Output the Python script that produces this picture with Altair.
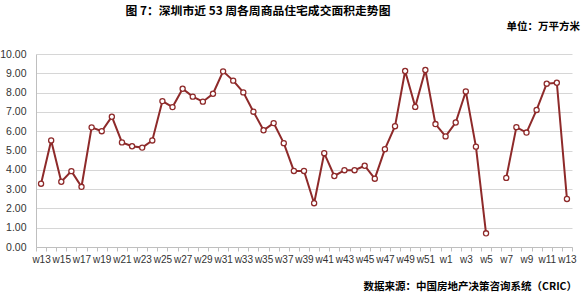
import altair as alt
import pandas as pd

weeks = ["w13","w14","w15","w16","w17","w18","w19","w20","w21","w22","w23","w24",
         "w25","w26","w27","w28","w29","w30","w31","w32","w33","w34","w35","w36",
         "w37","w38","w39","w40","w41","w42","w43","w44","w45","w46","w47","w48",
         "w49","w50","w51","w52","w1","w2","w3","w4","w5","w6","w7","w8","w9",
         "w10","w11","w12","w13"]
values = [3.28,5.52,3.38,3.93,3.12,6.20,6.00,6.75,5.42,5.22,5.15,5.52,
          7.56,7.25,8.20,7.79,7.53,7.94,9.10,8.62,8.01,7.01,6.05,6.42,
          5.38,3.94,3.94,2.27,4.86,3.68,3.98,3.98,4.21,3.54,5.07,6.26,
          9.12,7.26,9.17,6.37,5.73,6.45,8.06,5.20,0.71,None,3.58,6.21,5.93,
          7.10,8.46,8.51,2.49]
y_ticks = [0,1,2,3,4,5,6,7,8,9,10]

keys = [f"{i:02d}|{w}" for i, w in enumerate(weeks)]
df = pd.DataFrame({"key": keys, "week": weeks, "value": values})

LINE = "#8E2A2A"
FONT = "Liberation Sans"
CJK = "Noto Sans CJK SC"

x = alt.X("key:O", sort=keys, scale=alt.Scale(paddingInner=0, paddingOuter=0),
          axis=alt.Axis(title=None, tickBand="extent", ticks=True, tickSize=4,
                        tickColor="#BFBFBF", domainColor="#BFBFBF", labelAngle=0,
                        labelFont=FONT, labelFontSize=10, labelColor="#333333",
                        labelPadding=3, labelOverlap=False, grid=False,
                        labelExpr="parseInt(split(datum.label,'|')[0]) % 2 == 0 ? split(datum.label,'|')[1] : ''"))
y = alt.Y("value:Q", scale=alt.Scale(domain=[0, 10], nice=False),
          axis=alt.Axis(title=None, values=y_ticks, format=".2f", ticks=False,
                        domainColor="#BFBFBF", gridColor="#D6D6D6", gridWidth=1,
                        labelFont=FONT, labelFontSize=10.5, labelColor="#333333",
                        labelPadding=10))

base = alt.Chart(df)
line = base.mark_line(color=LINE, strokeWidth=2, invalid="break-paths-show-domains").encode(x=x, y=y)
pts = base.mark_point(shape="circle", filled=True, fill="white", stroke=LINE,
                      strokeWidth=1.3, size=26, opacity=1).encode(x=x, y=y)

title = alt.Chart(pd.DataFrame({"t": ["图 7：深圳市近 53 周各周商品住宅成交面积走势图"]})).mark_text(
    font=CJK, fontSize=11.8, fontWeight="bold", color="#000000", align="center", baseline="middle"
).encode(text="t:N", x=alt.value(222), y=alt.value(-43))
unit = alt.Chart(pd.DataFrame({"t": ["单位：万平方米"]})).mark_text(
    font=CJK, fontSize=10.5, fontWeight="bold", color="#000000", align="right", baseline="middle"
).encode(text="t:N", x=alt.value(544), y=alt.value(-27))
src = alt.Chart(pd.DataFrame({"t": ["数据来源：中国房地产决策咨询系统（CRIC）"]})).mark_text(
    font=CJK, fontSize=10.5, fontWeight="bold", color="#000000", align="right", baseline="middle"
).encode(text="t:N", x=alt.value(541), y=alt.value(233))

chart = alt.layer(line, pts, title, unit, src).properties(
    width=536, height=193,
    autosize=alt.AutoSizeParams(type="none"),
    padding={"left": 36, "top": 54, "right": 14, "bottom": 49},
    background="white",
).configure_view(stroke=None)

chart.save("out.html", embed_options={"renderer": "svg", "actions": False})
